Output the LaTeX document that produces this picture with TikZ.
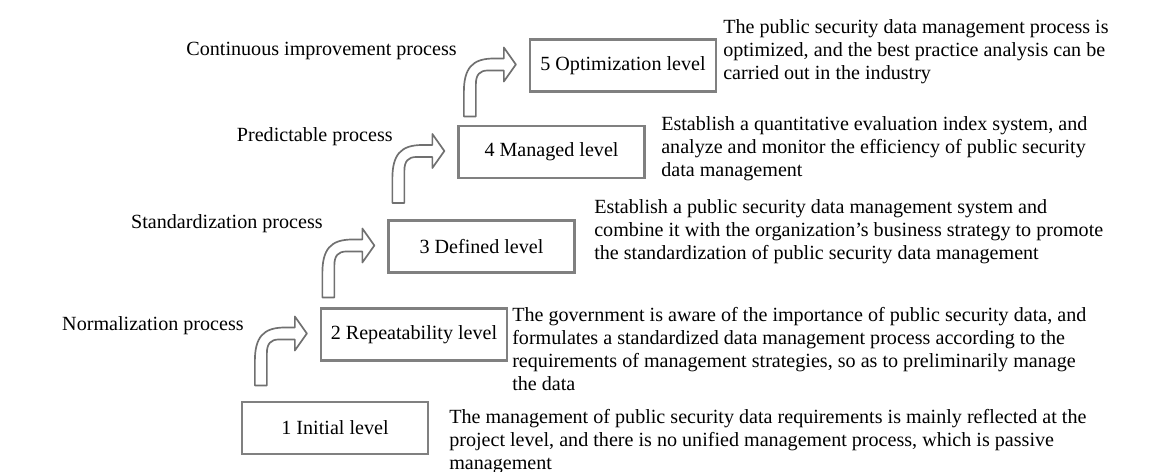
\documentclass[tikz,border=0pt]{standalone}
\usepackage{fontspec}
\setmainfont{Liberation Serif}
\usetikzlibrary{calc}
\definecolor{cframe}{HTML}{808080}
\definecolor{carrow}{HTML}{707070}
\tikzset{
  every picture/.style={font=\fontsize{14.3}{16.3}\selectfont},
  level/.style={draw=cframe, line width=1.6pt, minimum width=4.65cm, minimum height=1.3cm, inner sep=0pt},
  desc/.style={anchor=north west, align=left, inner sep=0pt},
  stage/.style={anchor=east, inner sep=0pt},
  bentarrow/.pic={
    \draw[draw=carrow, fill=white, line width=1.2pt, line join=round]
      (-52,52) -- (-52,28) .. controls (-52,4) and (-44,-6) .. (-22,-6) -- (-12,-6) -- (-12,-17) -- (0,0)
      -- (-12,17) -- (-12,6) -- (-28,6) .. controls (-36,6) and (-40,10) .. (-40,20) -- (-40,52) -- cycle;
  },
}
\begin{document}
\begin{tikzpicture}[x=0.025cm, y=-0.025cm]
  \useasboundingbox (0,0) rectangle (1164,472);
  % maturity levels
  \foreach \n/\x/\y/\t in {1/335/428/{1 Initial level}, 2/414/334.5/{2 Repeatability level},
      3/481.5/246.5/{3 Defined level}, 4/551.5/152/{4 Managed level}, 5/623/65.5/{5 Optimization level}}
    \node[level] (l\n) at (\x,\y) {\t};
  % bent arrows up to each level
  \foreach \n in {2,...,5}
    \pic at ($(l\n.west)+(-13,-1)$) {bentarrow};
  % process names
  \node[stage] (s2) at (244,326) {Normalization process};
  \node[stage] (s3) at (323,224) {Standardization process};
  \node[stage] (s4) at (393,137) {Predictable process};
  \node[stage] (s5) at (457,51) {Continuous improvement process};
  % descriptions
  \node[desc] (d1) at (449,409) {The management of public security data requirements is mainly reflected at the\\
    project level, and there is no unified management process, which is passive\\ management};
  \node[desc] (d2) at (512,307) {The government is aware of the importance of public security data, and\\
    formulates a standardized data management process according to the\\
    requirements of management strategies, so as to preliminarily manage\\ the data};
  \node[desc] (d3) at (594,199) {Establish a public security data management system and\\
    combine it with the organization's business strategy to promote\\
    the standardization of public security data management};
  \node[desc] (d4) at (661,116) {Establish a quantitative evaluation index system, and\\
    analyze and monitor the efficiency of public security\\ data management};
  \node[desc] (d5) at (723,19) {The public security data management process is\\
    optimized, and the best practice analysis can be\\ carried out in the industry};
\end{tikzpicture}
\end{document}
